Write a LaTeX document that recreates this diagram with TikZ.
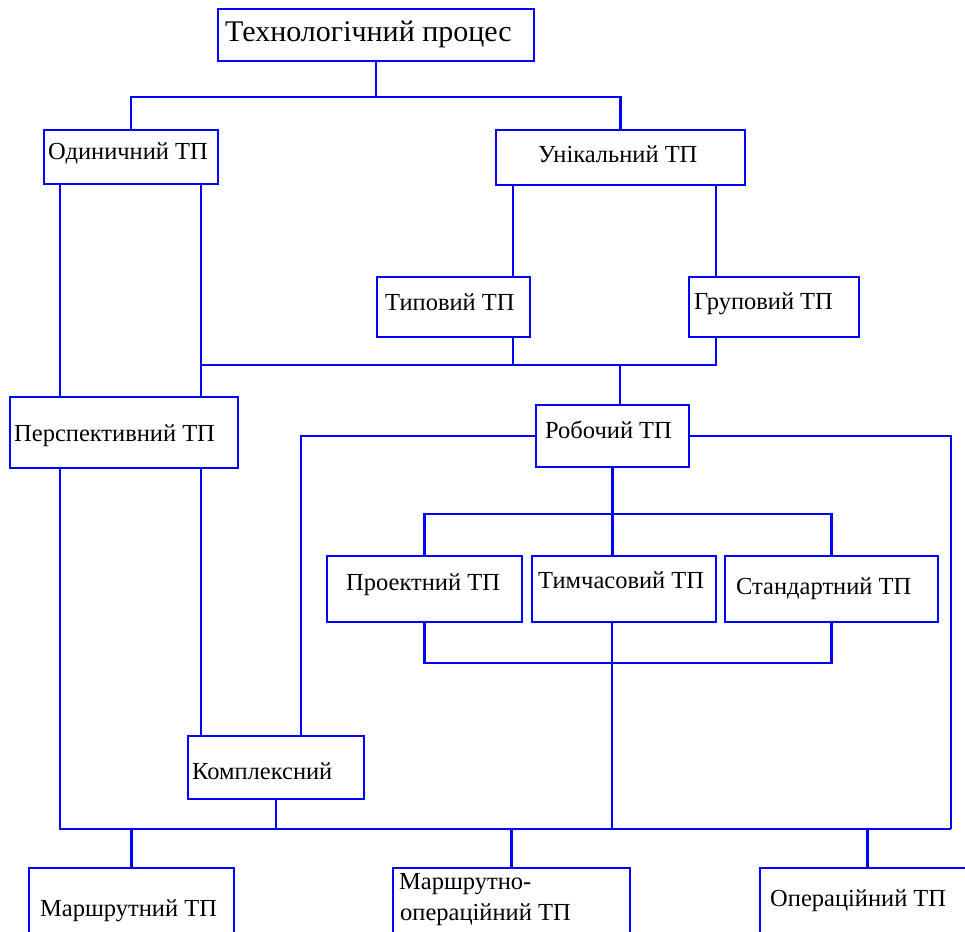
\documentclass[tikz,border=0pt]{standalone}
\usepackage{fontspec}
\setmainfont{Liberation Serif}
\begin{document}
\begin{tikzpicture}[x=1pt,y=-1pt,
  box/.style={draw=blue, line width=2.3pt, inner sep=0pt},
  conn/.style={draw=blue, line width=2.1pt},
  lbl/.style={inner sep=0pt, anchor=base west, font=\fontsize{24.5}{28}\selectfont},
  lbltop/.style={inner sep=0pt, anchor=base west, font=\fontsize{30}{34}\selectfont}]
\useasboundingbox (0,0) rectangle (965,931);
\clip (0,0) rectangle (965,931);
\fill[white] (0,0) rectangle (965,931);

% boxes
\node[box, minimum width=316, minimum height=52] (top) at (376,35) {};
\node[box, minimum width=174, minimum height=54] (odyn) at (131,157) {};
\node[box, minimum width=249, minimum height=55] (unik) at (620.5,157.5) {};
\node[box, minimum width=153, minimum height=60] (typ) at (453.5,307) {};
\node[box, minimum width=170, minimum height=60] (grup) at (774,307) {};
\node[box, minimum width=228, minimum height=71] (persp) at (124,432.5) {};
\node[box, minimum width=153, minimum height=62] (rob) at (612.5,436) {};
\node[box, minimum width=195, minimum height=66] (proekt) at (424.5,589) {};
\node[box, minimum width=184, minimum height=66] (tymch) at (624,589) {};
\node[box, minimum width=213, minimum height=66] (stand) at (831.5,589) {};
\node[box, minimum width=176, minimum height=63] (kompl) at (276,767.5) {};
\node[box, minimum width=205, minimum height=82] (marsh) at (131.5,909) {};
\node[box, minimum width=237, minimum height=82] (marshop) at (511.5,909) {};
\node[box, minimum width=215, minimum height=82] (oper) at (867.5,909) {};

% labels
\node[lbltop] (ttop) at (225,42) {Технологічний процес};
\node[lbl] (todyn) at (48,159) {Одиничний ТП};
\node[lbl] (tunik) at (538,162) {Унікальний ТП};
\node[lbl] (ttyp) at (385,310) {Типовий ТП};
\node[lbl] (tgrup) at (694,309.5) {Груповий ТП};
\node[lbl] (tpersp) at (14,441) {Перспективний ТП};
\node[lbl] (trob) at (545,438) {Робочий ТП};
\node[lbl] (tproekt) at (346,590.5) {Проектний ТП};
\node[lbl] (ttymch) at (538,588) {Тимчасовий ТП};
\node[lbl] (tstand) at (736,594.5) {Стандартний ТП};
\node[lbl] (tkompl) at (192,779) {Комплексний};
\node[lbl] (tmarsh) at (40,916.5) {Маршрутний ТП};
\node[lbl] (tmarshop1) at (399,889.5) {Маршрутно-};
\node[lbl] (tmarshop2) at (400,920) {операційний ТП};
\node[lbl] (toper) at (770,906.5) {Операційний ТП};

% junction coordinates
\coordinate (j1) at (376,97);
\coordinate (j2) at (620,365);
\coordinate (j3) at (951,829);
\coordinate (j4) at (612,514);
\coordinate (j5) at (612,663);

% connectors
\draw[conn] (top.south) -- (j1);
\draw[conn] (odyn.north) -- (odyn.north |- j1) -- (unik.north |- j1) -- (unik.north);
\draw[conn] ([xshift=-71]odyn.south) -- ([xshift=-71]odyn.south |- persp.north);
\draw[conn] ([xshift=70]odyn.south) -- ([xshift=70]odyn.south |- persp.north);
\draw[conn] ([xshift=-107.5]unik.south) -- ([xshift=59.5]typ.north);
\draw[conn] ([xshift=95.5]unik.south) -- ([xshift=-58]grup.north);
\draw[conn] ([xshift=59.5]typ.south) -- ([xshift=59.5]typ.south |- j2) -- ([xshift=-58]grup.south |- j2) -- ([xshift=-58]grup.south);
\draw[conn] ([xshift=70]odyn.south |- j2) -- ([xshift=59.5]typ.south |- j2);
\draw[conn] (j2) -- (j2 |- rob.north);
\draw[conn] (rob.west) -| ([xshift=25]kompl.north);
\draw[conn] (rob.east) -| (j3);
\draw[conn] ([xshift=-64]persp.south) |- (j3);
\draw[conn] ([xshift=77]persp.south) -- ([xshift=-75]kompl.north);
\draw[conn] (kompl.south) -- (kompl.south |- j3);
\draw[conn] (rob.south) -- (rob.south |- tymch.north);
\draw[conn] (proekt.north) |- (j4) -| (stand.north);
\draw[conn] (proekt.south) |- (j5) -| (stand.south);
\draw[conn] (j5 |- tymch.south) -- (j5 |- j3);
\draw[conn] (marsh.north) -- (marsh.north |- j3);
\draw[conn] (marshop.north) -- (marshop.north |- j3);
\draw[conn] (oper.north) -- (oper.north |- j3);
\end{tikzpicture}
\end{document}
